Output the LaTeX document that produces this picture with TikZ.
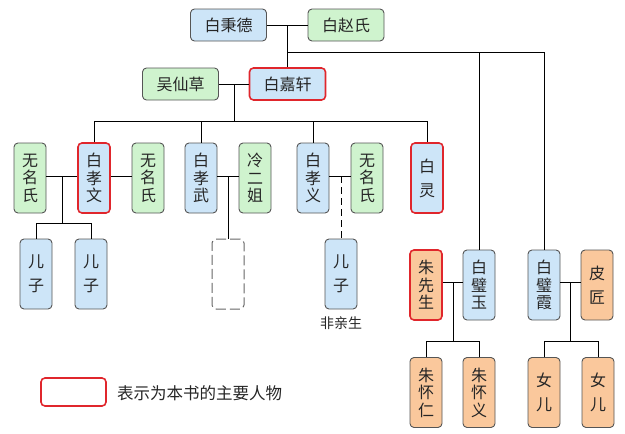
\documentclass[tikz,border=0pt]{standalone}
\usepackage{fontspec}
\newfontfamily\cjk{Noto Sans CJK SC}
\definecolor{pblue}{HTML}{CDE5F8}
\definecolor{pgreen}{HTML}{CFF3CE}
\definecolor{porange}{HTML}{FAC89C}
\definecolor{pred}{HTML}{E0262C}
\definecolor{pedge}{HTML}{555555}
\begin{document}
\begin{tikzpicture}[x=1pt,y=-1pt,
  person/.style={draw=pedge, rounded corners=4pt, line width=0.9pt, inner sep=0pt, align=center, text=black!85, font=\cjk\fontsize{16}{17.5}\selectfont},
  wide/.style={minimum width=76pt, minimum height=32pt},
  tall/.style={minimum width=32pt, minimum height=70pt},
  two/.style={font=\cjk\fontsize{16}{24}\selectfont},
  mblue/.style={fill=pblue}, mgreen/.style={fill=pgreen}, morange/.style={fill=porange},
  mainp/.style={draw=pred, line width=1.6pt},
  link/.style={draw=black, line width=0.8pt},
  ghost/.style={draw=black!60, dash pattern=on 10pt off 4pt, line width=1pt, rounded corners=4pt, fill=white, minimum width=32pt, minimum height=70pt}]
\useasboundingbox (0,0) rectangle (625,434);
% generation 1
\node[person,wide,mblue] (bd) at (228.5,25) {白秉德};
\node[person,wide,mgreen] (zs) at (346,25) {白赵氏};
% generation 2
\node[person,wide,mgreen] (wu) at (180.5,84) {吴仙草};
\node[person,wide,mblue,mainp] (jx) at (287.5,84) {白嘉轩};
% generation 3
\node[person,tall,mgreen] (wm1) at (30,178) {无\\名\\氏};
\node[person,tall,mblue,mainp] (xw) at (94,178) {白\\孝\\文};
\node[person,tall,mgreen] (wm2) at (148,178) {无\\名\\氏};
\node[person,tall,mblue] (xwu) at (201,178) {白\\孝\\武};
\node[person,tall,mgreen] (le) at (255,178) {冷\\二\\姐};
\node[person,tall,mblue] (xy) at (313,178) {白\\孝\\义};
\node[person,tall,mgreen] (wm3) at (367,178) {无\\名\\氏};
\node[person,tall,two,mblue,mainp] (bl) at (427,178) {白\\灵};
\node[person,tall,morange,mainp] (zx) at (426,285) {朱\\先\\生};
\node[person,tall,mblue] (byu) at (479,285) {白\\璧\\玉};
\node[person,tall,mblue] (bx) at (544,285) {白\\璧\\霞};
\node[person,tall,two,morange] (pj) at (597,285) {皮\\匠};
% generation 4
\node[person,tall,two,mblue] (ez1) at (36,274) {儿\\子};
\node[person,tall,two,mblue] (ez2) at (91,274) {儿\\子};
\node[ghost] (gh) at (228,274) {};
\node[person,tall,two,mblue] (ez3) at (341,274) {儿\\子};
\node[font=\cjk\fontsize{14}{15}\selectfont, text=black!85] (fq) at (341,323) {非亲生};
\node[person,tall,morange] (hr) at (426,392.5) {朱\\怀\\仁};
\node[person,tall,morange] (hy) at (479,392.5) {朱\\怀\\义};
\node[person,tall,two,morange] (ne1) at (544,392.5) {女\\儿};
\node[person,tall,two,morange] (ne2) at (598,392.5) {女\\儿};
% legend
\node[draw=pred, line width=1.6pt, rounded corners=4pt, minimum width=65pt, minimum height=28pt, fill=white] (lg) at (73.5,392) {};
\node[anchor=west, inner sep=0pt, font=\cjk\fontsize{16.5}{17}\selectfont, text=black!85] (lt) at (117,393) {表示为本书的主要人物};
% connectors
\coordinate (t1) at (287,25);
\coordinate (t2) at (287,52);
\draw[link] (bd.east) -- (zs.west);
\draw[link] (t1) -- (jx.north -| t1);
\draw[link] (t2) -- (bx.north |- t2) -- (bx.north);
\draw[link] (byu.north |- t2) -- (byu.north);
\coordinate (m1) at (234,84);
\coordinate (bus) at (234,121);
\draw[link] (wu.east) -- (jx.west);
\draw[link] (m1) -- (bus);
\draw[link] (xw.north) -- (xw.north |- bus) -- (bl.north |- bus) -- (bl.north);
\draw[link] (xwu.north) -- (xwu.north |- bus);
\draw[link] (xy.north) -- (xy.north |- bus);
% couples row 3
\draw[link] (wm1.east |- 0,176) -- (xw.west |- 0,176);
\draw[link] (xw.east |- 0,176) -- (wm2.west |- 0,176);
\draw[link] (xwu.east |- 0,176) -- (le.west |- 0,176);
\draw[link] (xy.east |- 0,176) -- (wm3.west |- 0,176);
\coordinate (c1) at (62,176);
\coordinate (c1b) at (62,223);
\draw[link] (c1) -- (c1b);
\draw[link] (ez1.north) |- (c1b);
\draw[link] (ez2.north) |- (c1b);
\coordinate (c2) at (228,176);
\draw[link] (c2) -- (gh.north);
\coordinate (c3) at (341,176);
\draw[link, dash pattern=on 7pt off 4pt] (c3) -- (ez3.north);
% couples row 3b
\draw[link] (zx.east |- 0,282) -- (byu.west |- 0,282);
\draw[link] (bx.east |- 0,282) -- (pj.west |- 0,282);
\coordinate (c4) at (453,282);
\coordinate (c4b) at (453,341);
\draw[link] (c4) -- (c4b);
\draw[link] (hr.north) |- (c4b);
\draw[link] (hy.north) |- (c4b);
\coordinate (c5) at (570,282);
\coordinate (c5b) at (570,341);
\draw[link] (c5) -- (c5b);
\draw[link] (ne1.north) |- (c5b);
\draw[link] (ne2.north) |- (c5b);
\end{tikzpicture}
\end{document}
